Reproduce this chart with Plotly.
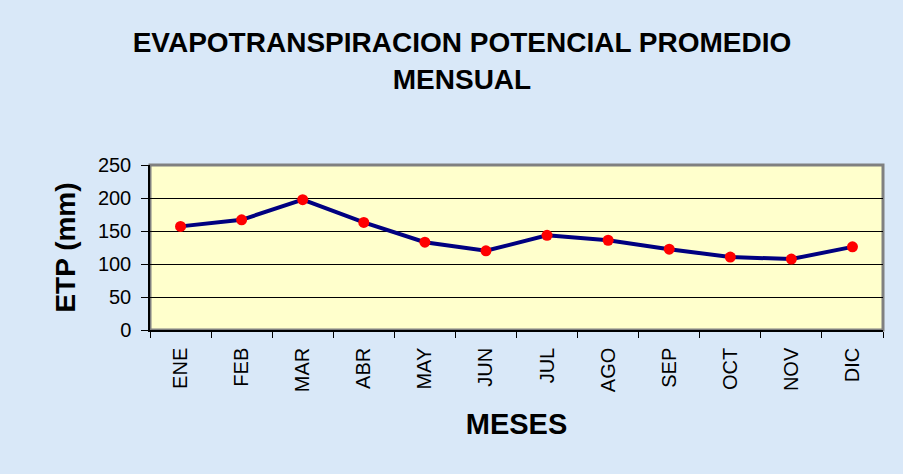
import plotly.graph_objects as go

# monthly mean potential evapotranspiration (mm)
meses = ["ENE", "FEB", "MAR", "ABR", "MAY", "JUN", "JUL", "AGO", "SEP", "OCT", "NOV", "DIC"]
etp = [157, 167, 197.5, 163, 133, 120, 143.5, 136, 122.5, 110.5, 107.5, 126]
y_ticks = [0, 50, 100, 150, 200, 250]

font = "Liberation Sans, Arial, sans-serif"

fig = go.Figure()

fig.add_trace(go.Scatter(
    x=meses,
    y=etp,
    mode="lines+markers",
    line=dict(color="#000080", width=4),
    marker=dict(color="#ff0000", size=11, line=dict(width=0)),
    showlegend=False,
))

fig.update_layout(
    width=903,
    height=474,
    margin=dict(l=150, r=20, t=165, b=144),
    paper_bgcolor="#d9e8f8",
    plot_bgcolor="#ffffcc",
    font=dict(family=font, size=20, color="#000000"),
    title=dict(
        text="EVAPOTRANSPIRACION POTENCIAL PROMEDIO<br>MENSUAL",
        font=dict(family=font, size=28, color="#000000", weight="bold"),
        x=0.5116, xanchor="center",
        y=0.89, yanchor="top",
    ),
    # gray frame round the plot area (top and right show as the shadow)
    shapes=[dict(
        type="rect", xref="paper", yref="paper",
        x0=0, x1=1, y0=0, y1=1,
        line=dict(color="#808080", width=3),
        layer="below",
    )],
)

fig.update_xaxes(
    type="category",
    range=[-0.5, len(meses) - 0.5],
    tickangle=-90,
    tickson="boundaries",
    ticks="outside",
    ticklen=6,
    tickcolor="#000000",
    showline=True,
    linecolor="#000000",
    linewidth=1.5,
    showgrid=False,
    ticklabelstandoff=8,
    tickfont=dict(size=20),
    title=dict(text="MESES", font=dict(size=29, weight="bold"), standoff=22),
)

fig.update_yaxes(
    range=[0, 250],
    tickvals=y_ticks,
    ticks="outside",
    ticklen=7,
    tickcolor="#000000",
    showline=True,
    linecolor="#000000",
    linewidth=1.5,
    showgrid=True,
    gridcolor="#000000",
    gridwidth=1,
    zeroline=False,
    ticklabelstandoff=6,
    tickfont=dict(size=20),
    title=dict(text="ETP (mm)", font=dict(size=28, weight="bold"), standoff=14),
)

# drop the browser's default body margin so the figure sits at the window corner
fig.write_html(
    "out.html",
    config={"displayModeBar": False},
    post_script="document.body.style.margin='0';",
)
